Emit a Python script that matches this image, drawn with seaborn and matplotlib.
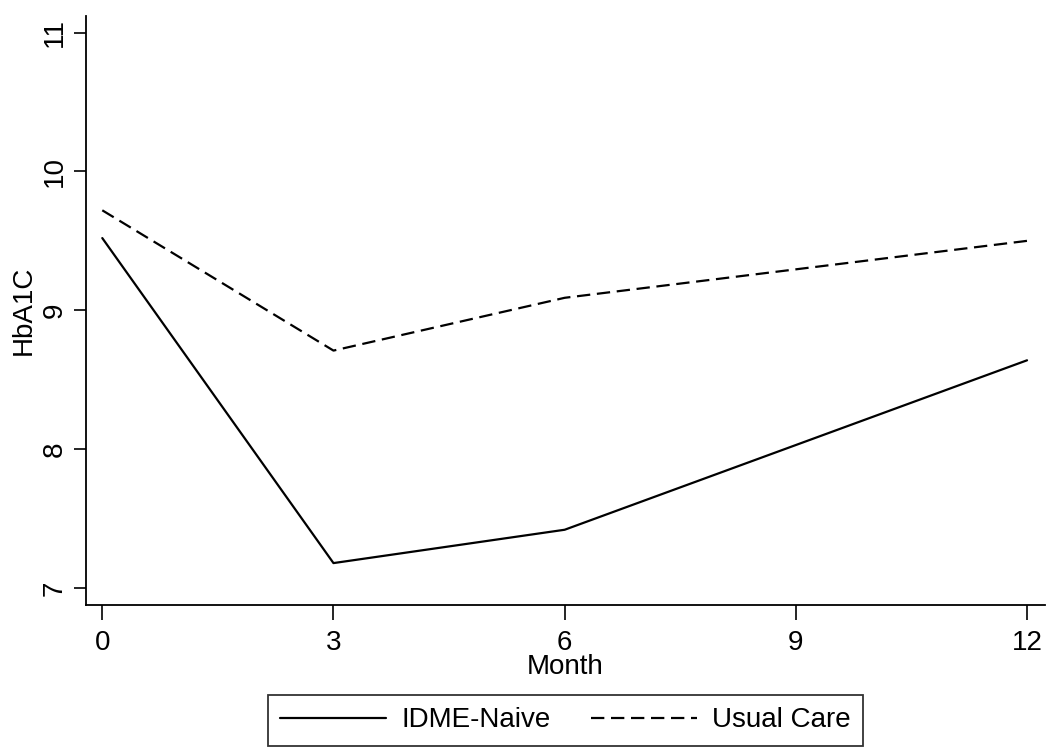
import matplotlib.pyplot as plt
import seaborn as sns
import pandas as pd

months = [0, 3, 6, 12]
idme_naive = [9.52, 7.18, 7.42, 8.64]
usual_care = [9.72, 8.71, 9.09, 9.50]
groups = ['IDME-Naive', 'Usual Care']

df = pd.DataFrame({
    'Month': months * 2,
    'HbA1C': idme_naive + usual_care,
    'group': [groups[0]] * len(months) + [groups[1]] * len(months),
})

sns.set_style('white')
plt.rcParams['font.family'] = ['Liberation Sans', 'DejaVu Sans']
plt.rcParams['text.color'] = 'black'
plt.rcParams['axes.labelcolor'] = 'black'
plt.rcParams['xtick.color'] = 'black'
plt.rcParams['ytick.color'] = 'black'

fig = plt.figure(figsize=(10.5, 7.55), dpi=100, facecolor='white')
ax = fig.add_axes([0.082, 0.199, 0.913, 0.780])

sns.lineplot(data=df, x='Month', y='HbA1C', hue='group', style='group',
             palette={groups[0]: 'black', groups[1]: 'black'},
             dashes={groups[0]: '', groups[1]: (6, 3)},
             linewidth=1.6, ax=ax, legend=True)

ax.set_xlim(-0.21, 12.23)
ax.set_ylim(6.88, 11.12)
ax.set_xticks([0, 3, 6, 9, 12])
ax.set_yticks([7, 8, 9, 10, 11])
ax.tick_params(axis='both', direction='out', width=1.2,
               labelsize=20, left=True, bottom=True)
ax.tick_params(axis='x', length=11, pad=7)
ax.tick_params(axis='y', length=9, pad=4)
for lbl in ax.get_yticklabels():
    lbl.set_rotation(90)
    lbl.set_va('center')
ax.set_xlabel('Month', fontsize=20, labelpad=-1)
ax.set_ylabel('HbA1C', fontsize=20, labelpad=4)

for side in ['top', 'right']:
    ax.spines[side].set_visible(False)
for side in ['left', 'bottom']:
    ax.spines[side].set_color('black')
    ax.spines[side].set_linewidth(1.3)

handles, labels = ax.get_legend_handles_labels()
leg = ax.legend(handles, labels, loc='upper center', bbox_to_anchor=(0.5, -0.153),
                ncol=2, frameon=True, fancybox=False, edgecolor='black',
                fontsize=20, handlelength=3.8, columnspacing=1.47,
                borderpad=0.45, handletextpad=0.55, borderaxespad=0)
leg.get_frame().set_linewidth(1.3)

plt.savefig('out.png', dpi=100, facecolor='white')
